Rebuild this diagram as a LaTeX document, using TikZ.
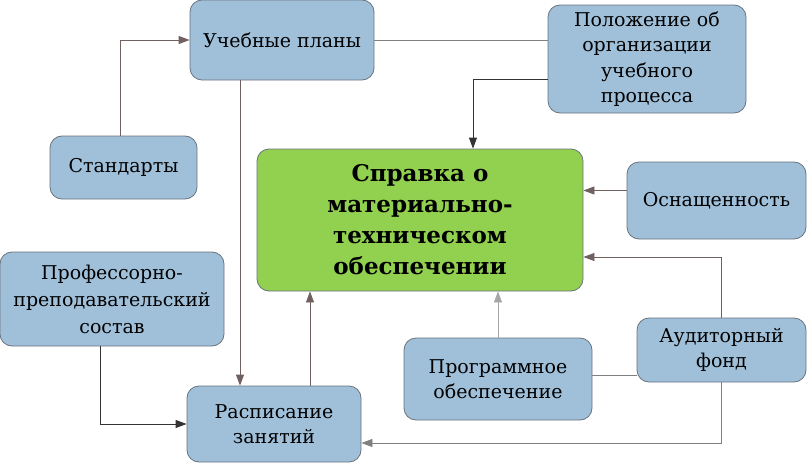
\documentclass[tikz,border=0pt]{standalone}
\usepackage{fontspec}
\setmainfont{DejaVu Serif}
\usepackage{tikz}
\usetikzlibrary{arrows.meta}
\definecolor{boxblue}{RGB}{160,192,218}
\definecolor{boxgreen}{RGB}{146,208,80}
\definecolor{boxline}{RGB}{105,115,125}
\definecolor{linkline}{RGB}{112,96,96}
\begin{document}
\begin{tikzpicture}[x=1pt,y=-1pt]
              \tikzstyle{every node}+=[inner sep=0pt]
              \tikzstyle{blk}=[draw=boxline, line width=0.8pt, fill=boxblue, rounded corners=12pt, align=center, font=\fontsize{19}{25.5}\selectfont]
              \tikzstyle{link}=[draw=linkline, line width=0.8pt]
              \tikzstyle{arr}=[link, -{Triangle[length=11pt,width=8pt]}]
              \useasboundingbox (0,0) rectangle (807,463);
              \node [blk, minimum width=184pt, minimum height=80pt] (plan) at (282,40) {Учебные планы};
              \node [blk, minimum width=198pt, minimum height=108pt] (pol) at (647,59) {Положение об\\организации\\учебного\\процесса};
              \node [blk, minimum width=147pt, minimum height=63pt] (std) at (123.5,167.5) {Стандарты};
              \node [blk, fill=boxgreen, minimum width=326pt, minimum height=142pt, font=\fontsize{23}{31}\selectfont\bfseries] (sprav) at (420,220) {Справка о\\материально-\\техническом\\обеспечении};
              \node [blk, minimum width=179pt, minimum height=77pt] (osn) at (716.5,200.5) {Оснащенность};
              \node [blk, minimum width=224pt, minimum height=94pt, font=\fontsize{19}{27}\selectfont] (prof) at (112,299) {Профессорно-\\преподавательский\\состав};
              \node [blk, minimum width=188pt, minimum height=82pt] (prog) at (498,379) {Программное\\обеспечение};
              \node [blk, minimum width=169pt, minimum height=64pt] (aud) at (721.5,350) {Аудиторный\\фонд};
              \node [blk, minimum width=174pt, minimum height=76pt] (rasp) at (274,424) {Расписание\\занятий};
              % links
              \draw [arr] ([xshift=-3.5pt]std.north) |- (plan.west);
              \draw [link, draw=gray] (plan.east) -- (plan.east -| pol.west);
              \draw [arr, draw=black!80] ([yshift=-20pt]pol.west) -| ([xshift=53pt]sprav.north);
              \draw [arr] ([xshift=-42pt]plan.south) -- ([xshift=-42pt]plan.south |- rasp.north);
              \draw [arr] ([yshift=10pt]osn.west) -- ([yshift=10pt]osn.west -| sprav.east);
              \draw [arr] (aud.north) |- ([yshift=-37pt]sprav.east);
              \draw [arr, draw=gray!70] (prog.north) -- (prog.north |- sprav.south);
              \draw [link, draw=gray] ([yshift=4pt]prog.east) -- ([yshift=4pt]prog.east -| aud.west);
              \draw [arr, draw=gray] (aud.south) |- ([yshift=-19pt]rasp.east);
              \draw [arr] ([xshift=36pt]rasp.north) -- ([xshift=36pt]rasp.north |- sprav.south);
              \draw [arr, draw=black!80] ([xshift=-12pt]prof.south) |- (rasp.west);
\end{tikzpicture}
\end{document}
